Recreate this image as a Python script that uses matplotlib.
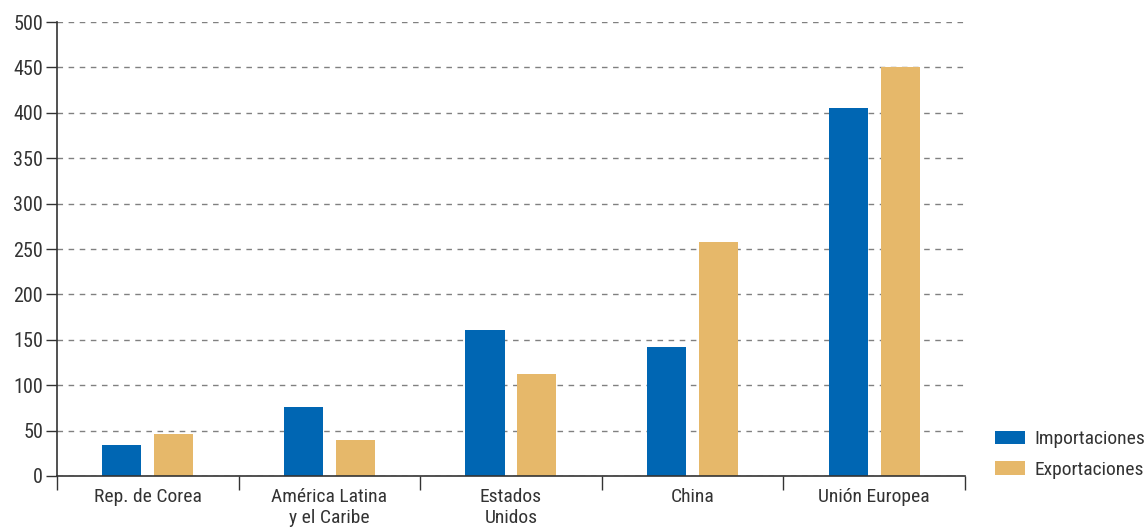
import matplotlib.pyplot as plt
import numpy as np
from matplotlib.ticker import FixedLocator, NullFormatter

plt.rcParams['font.family'] = ['Roboto Condensed', 'Liberation Sans Narrow', 'Roboto', 'DejaVu Sans']

categories = ["Rep. de Corea", "América Latina\ny el Caribe", "Estados\nUnidos", "China", "Unión Europea"]
importaciones = [34, 76, 161, 142, 405]
exportaciones = [46, 40, 112, 258, 451]
yticks = [0, 50, 100, 150, 200, 250, 300, 350, 400, 450, 500]

blue = "#0066B3"
gold = "#E6B86A"

fig = plt.figure(figsize=(11.44, 5.28), dpi=100)
ax = fig.add_axes([0.0498, 0.0985, 0.7937, 0.8597])

x = np.arange(len(categories))
w = 0.215
ax.bar(x - 0.143, importaciones, w, color=blue, label="Importaciones", zorder=3)
ax.bar(x + 0.143, exportaciones, w, color=gold, label="Exportaciones", zorder=3)

ax.set_xlim(-0.5, len(categories) - 0.5)
ax.set_ylim(0, 500)
ax.set_yticks(yticks)
ax.yaxis.grid(True, linestyle=(0, (4, 4)), color="#808080", linewidth=1, zorder=0)

# category labels centred, ticks at boundaries
ax.set_xticks(x)
ax.set_xticklabels(categories, fontsize=14, color="#333333", linespacing=1.15)
ax.tick_params(axis="x", which="major", length=0, pad=9)
ax.xaxis.set_minor_locator(FixedLocator(np.arange(-0.5, len(categories), 1)))
ax.xaxis.set_minor_formatter(NullFormatter())
ax.tick_params(axis="x", which="minor", length=10, width=1, color="#333333", direction="out")
ax.tick_params(axis="y", length=8, width=1, color="#333333", labelsize=14.5, labelcolor="#333333", pad=2)

for s in ["top", "right"]:
    ax.spines[s].set_visible(False)
for s in ["left", "bottom"]:
    ax.spines[s].set_color("#333333")
    ax.spines[s].set_linewidth(1.2)
    ax.spines[s].set_zorder(4)

fig.legend(loc="lower left", bbox_to_anchor=(995 / 1144, 0.093), frameon=False, fontsize=14,
           borderpad=0, borderaxespad=0,
           handlelength=1.55, handleheight=0.72, labelspacing=0.65, handletextpad=0.5,
           labelcolor="#333333")

fig.savefig("out.png", dpi=100)
